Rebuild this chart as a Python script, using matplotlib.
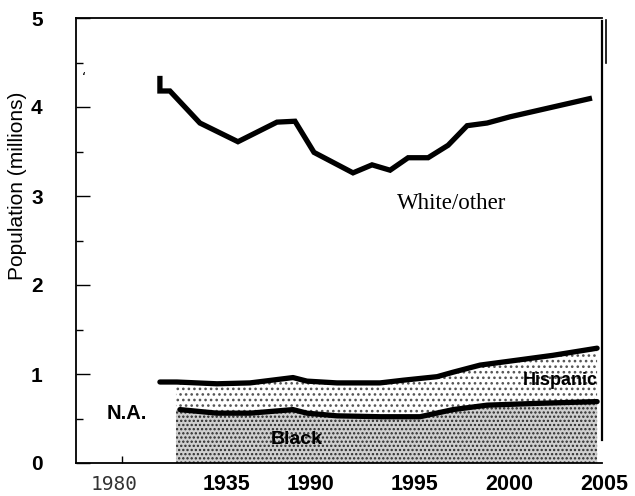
import matplotlib
matplotlib.use("Agg")
import matplotlib.pyplot as plt
import matplotlib.lines as mlines
import numpy as np

plt.rcParams['hatch.linewidth'] = 1.1

# ---- data ----
white_years = [1982.19, 1982.19, 1982.70, 1984.23, 1986.17, 1988.16, 1989.08, 1990.05,
               1992.04, 1993.01, 1993.93, 1994.85, 1995.87, 1996.89, 1997.86, 1998.88,
               2000.05, 2004.23]
white_vals = [4.35, 4.18, 4.18, 3.82, 3.61, 3.83, 3.84, 3.49,
              3.26, 3.35, 3.29, 3.43, 3.43, 3.57, 3.79, 3.82,
              3.89, 4.10]

hisp_years = [1982.19, 1983.06, 1985.10, 1986.79, 1988.98, 1989.69, 1991.22, 1993.42,
              1994.59, 1996.33, 1997.14, 1998.52, 2000.56, 2002.24, 2004.49]
hisp_vals = [0.91, 0.91, 0.89, 0.90, 0.96, 0.92, 0.90, 0.90,
             0.93, 0.97, 1.02, 1.10, 1.16, 1.21, 1.29]

black_years = [1983.21, 1985.10, 1986.79, 1988.98, 1989.69, 1991.22, 1993.42,
               1995.46, 1997.14, 1998.88, 2001.43, 2004.49]
black_vals = [0.60, 0.56, 0.56, 0.60, 0.56, 0.53, 0.52,
              0.52, 0.60, 0.65, 0.67, 0.69]

shade_start = 1983.01

x_labels = ["1980", "1935", "1990", "1995", "2000", "2005"]
y_ticks = [0, 1, 2, 3, 4, 5]

# ---- figure ----
fig = plt.figure(figsize=(6.35, 4.96), dpi=100)
ax = fig.add_axes([76/635, 1-463/496, (602-76)/635, (463-18)/496])
ax.set_xlim(1977.91, 2004.74)
ax.set_ylim(0, 5)

# shaded bands
bx = np.concatenate([[shade_start], black_years])
by = np.concatenate([[black_vals[0]], black_vals])
hy = np.interp(bx, hisp_years, hisp_vals)
ax.fill_between(bx, 0, by, facecolor='#cfcfcf', hatch='....', edgecolor='#2a2a2a', linewidth=0)
ax.fill_between(bx, by, hy, facecolor='white', hatch='...', edgecolor='#555555', linewidth=0)

# lines
ax.plot(white_years, white_vals, color='black', lw=3.8, solid_joinstyle='miter', solid_capstyle='butt')
ax.plot(hisp_years, hisp_vals, color='black', lw=3.8, solid_capstyle='round')
ax.plot(black_years, black_vals, color='black', lw=3.8, solid_capstyle='round')

# axes styling
for s in ['left', 'bottom', 'top']:
    ax.spines[s].set_linewidth(1.3)
ax.spines['right'].set_linewidth(1.6)
ax.spines['right'].set_bounds(0.26, 4.97)

ax.set_yticks(y_ticks)
ax.set_yticklabels([str(v) for v in y_ticks], fontsize=15, fontweight='bold',
                   family='Liberation Sans')
ax.set_yticks(np.arange(0.5, 5, 1.0), minor=True)
ax.tick_params(axis='y', which='major', direction='in', length=10, width=1, pad=24)
ax.tick_params(axis='y', which='minor', direction='in', length=5, width=1)
ax.set_xticks([1980.26])
ax.set_xticklabels([""])
ax.tick_params(axis='x', direction='in', length=5, width=1)

fig.text(18/635, 1-186/496, "Population (millions)", rotation=90, fontsize=15,
         family='Liberation Sans', ha='center', va='center')

# x labels (placed under the axis)
label_px = [114, 227, 311, 415, 509, 604]
for i, (lab, px) in enumerate(zip(x_labels, label_px)):
    if i == 0:
        fig.text(px/635, 1-484/496, lab, ha='center', va='center', fontsize=14,
                 family='DejaVu Sans Mono', color='#333333')
    else:
        fig.text(px/635, 1-484/496, lab, ha='center', va='center', fontsize=15.5,
                 fontweight='bold', family='Liberation Sans')

# annotations
ax.text(1997.09, 2.92, "White/other", fontsize=16.5, family='Liberation Serif',
        ha='center', va='center')
ax.text(2004.5, 0.93, "Hispanic", fontsize=13, fontweight='bold',
        family='Liberation Sans', ha='right', va='center')
ax.text(1989.18, 0.26, "Black", fontsize=14, fontweight='bold',
        family='Liberation Sans', ha='center', va='center')
ax.text(1980.51, 0.56, "N.A.", fontsize=14.5, fontweight='bold',
        family='Liberation Sans', ha='center', va='center')
fig.text(84/635, 1-78/496, "\u2018", fontsize=10, ha='center', va='center')

# clipped title at top edge
fig.text(0.53, 1 + 4/496, "Population by Race/Ethnicity, County, 1980-2005",
         fontsize=13, fontweight='bold', family='Liberation Sans', ha='center', va='baseline')

# scan artifact line at right
fig.add_artist(mlines.Line2D([606/635, 606/635], [1-20/496, 1-63/496], color='black', lw=1.2))

fig.savefig("out.png", dpi=100)
